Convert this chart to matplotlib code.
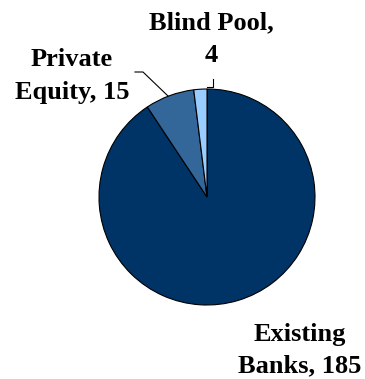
import matplotlib
matplotlib.use("Agg")
import matplotlib.pyplot as plt

# data
categories = ["Existing\nBanks", "Private\nEquity", "Blind Pool"]
values = [185, 15, 4]
label_sep = [", ", ", ", ",\n"]
colors = ["#003366", "#336699", "#99CCFF"]

W, H = 365, 379
fig = plt.figure(figsize=(W / 100, H / 100), dpi=100)
ax = fig.add_axes([0, 0, 1, 1])

# pie in pixel-like coords (y measured from bottom)
cx, cy, r = 207, H - 197, 108
wedges, _ = ax.pie(values, colors=colors, startangle=90, counterclock=False,
                   center=(cx, cy), radius=r,
                   wedgeprops=dict(edgecolor="black", linewidth=0.8))
ax.set_xlim(0, W)
ax.set_ylim(0, H)
ax.set_aspect("equal")
ax.axis("off")

font = dict(family="Liberation Serif", fontweight="bold", fontsize=19,
            ha="center", va="center", linespacing=1.5)

# label positions (pixel coords from top)
label_pos = [(300, 350), (72, 76), (211, 39)]
for cat, v, sep, (x, y) in zip(categories, values, label_sep, label_pos):
    ax.text(x, H - y, f"{cat}{sep}{v}", **font)

# leader lines
ax.plot([135, 143, 168], [H - 72, H - 72, H - 96], color="black", lw=0.8)
ax.plot([213, 213, 207], [H - 79, H - 87, H - 87], color="black", lw=0.8)

fig.savefig("out.png", dpi=100)
